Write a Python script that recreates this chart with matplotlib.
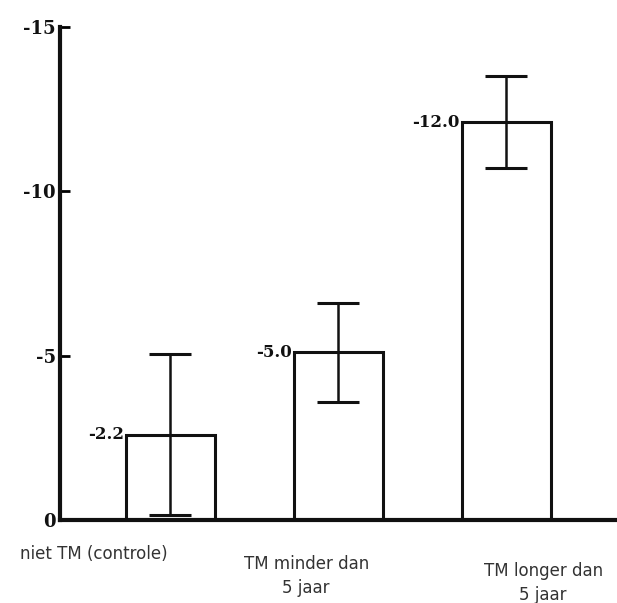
import matplotlib
matplotlib.use("Agg")
import matplotlib.pyplot as plt

categories = ["niet TM (controle)", "TM minder dan\n5 jaar", "TM longer dan\n5 jaar"]
values = [2.6, 5.1, 12.1]
errors = [2.45, 1.5, 1.4]
bar_labels = ["-2.2", "-5.0", "-12.0"]
yticks = [0, 5, 10, 15]
ytick_labels = ["0", "-5", "-10", "-15"]

fig = plt.figure(figsize=(6.17, 6.03), dpi=100)
ax = fig.add_axes([0.0972, 0.1376, 0.9028, 0.8174])

x = list(range(len(categories)))
ax.bar(x, values, width=0.53, facecolor="white", edgecolor="#111111", linewidth=2.2, zorder=2)
ax.errorbar(x, values, yerr=errors, fmt="none", ecolor="#111111", elinewidth=1.8,
            capsize=15, capthick=2.2, zorder=3)

for xi, v, lab in zip(x, values, bar_labels):
    ax.text(xi - 0.275, v, lab, ha="right", va="center", fontsize=12,
            fontweight="bold", family="DejaVu Serif", color="#111111")

ax.set_xlim(-0.655, 2.66)
ax.set_ylim(0, 15)
ax.set_yticks(yticks)
ax.set_yticklabels(ytick_labels, family="DejaVu Serif", fontsize=13, color="#111111",
                   fontweight="semibold")
ax.tick_params(axis="y", direction="in", length=7, width=2, pad=3)
ax.set_xticks([])

for s in ["top", "right"]:
    ax.spines[s].set_visible(False)
ax.spines["left"].set_linewidth(3)
ax.spines["bottom"].set_linewidth(3)
ax.spines["left"].set_color("#111111")
ax.spines["bottom"].set_color("#111111")

# category labels
label_x = [-0.455, 0.81, 2.22]
label_y = [-0.05, -0.07, -0.085]
for lx, ly, c in zip(label_x, label_y, categories):
    ax.text(lx, ly, c, transform=ax.get_xaxis_transform(), ha="center", va="top",
            fontsize=12, family="DejaVu Sans", color="#333333", linespacing=1.45)

fig.savefig("out.png", dpi=100, facecolor="white")
